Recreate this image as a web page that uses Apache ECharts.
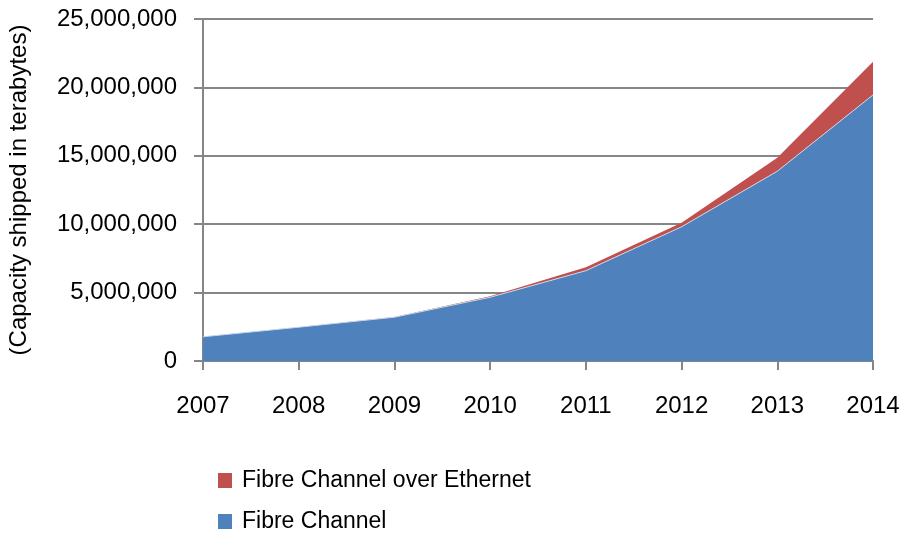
<!DOCTYPE html>
<html><head><meta charset="utf-8">
<script src="https://cdn.jsdelivr.net/npm/echarts@6/dist/echarts.min.js"></script>
<style>html,body{margin:0;padding:0;background:#fff}#c{width:905px;height:536px}</style>
</head><body><div id="c"></div>
<script>
const years = ['2007','2008','2009','2010','2011','2012','2013','2014'];
const fibreChannel = [1770000, 2470000, 3200000, 4660000, 6600000, 9810000, 13870000, 19450000];
const fcoe = [0, 0, 20000, 70000, 260000, 300000, 980000, 2420000];
const yTicks = [0, 5000000, 10000000, 15000000, 20000000, 25000000];
const legendNames = ['Fibre Channel over Ethernet', 'Fibre Channel'];
const FONT = 'Liberation Sans';
const chart = echarts.init(document.getElementById('c'));
const legendBase = {
  orient: 'vertical', left: 218, padding: 0, itemWidth: 14, itemHeight: 15, icon: 'rect',
  textStyle: {fontFamily: FONT, fontSize: 23, color: '#000', padding: [0, 0, 0, 5]}
};
chart.setOption({
  animation: false,
  grid: {left: 203, right: 32, top: 19, bottom: 175, outerBoundsMode: 'none', containLabel: false},
  legend: [
    Object.assign({}, legendBase, {top: 469, data: [legendNames[0]]}),
    Object.assign({}, legendBase, {top: 510, data: [legendNames[1]]})
  ],
  xAxis: {
    type: 'category', data: years, boundaryGap: false,
    axisLine: {lineStyle: {color: '#868686', width: 2}},
    axisTick: {show: true, length: 9, lineStyle: {color: '#868686', width: 2}},
    axisLabel: {fontFamily: FONT, fontSize: 24, color: '#000', margin: 33}
  },
  yAxis: {
    type: 'value', min: yTicks[0], max: yTicks[yTicks.length-1], interval: 5000000,
    name: '(Capacity shipped in terabytes)', nameLocation: 'middle', nameGap: 172,
    nameTextStyle: {fontFamily: FONT, fontSize: 24, color: '#000'},
    axisLine: {show: true, lineStyle: {color: '#868686', width: 2}},
    axisTick: {show: true, length: 9, lineStyle: {color: '#868686', width: 2}},
    splitLine: {lineStyle: {color: '#868686', width: 2}},
    axisLabel: {fontFamily: FONT, fontSize: 24, color: '#000', margin: 26,
      formatter: v => v.toLocaleString('en-US')}
  },
  series: [
    {name: 'Fibre Channel', type: 'line', stack: 'a', data: fibreChannel, showSymbol: false,
     lineStyle: {width: 1, color: '#C9D6E8'}, areaStyle: {color: '#4F81BD', opacity: 1}, itemStyle: {color: '#4F81BD'}},
    {name: 'Fibre Channel over Ethernet', type: 'line', stack: 'a', data: fcoe, showSymbol: false,
     lineStyle: {width: 0}, areaStyle: {color: '#C0504D', opacity: 1}, itemStyle: {color: '#C0504D'}}
  ]
});
</script></body></html>
